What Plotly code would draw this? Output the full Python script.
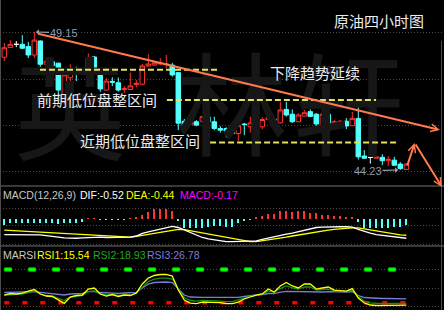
import plotly.graph_objects as go

W, H = 444, 310

# ---------------- data ----------------
open_ = [48.25, 48.60, 48.71, 48.71, 48.63, 48.33, 48.83, 48.00, 48.09, 48.04,
         46.65, 47.52, 47.85, 47.71, 47.73, 48.26, 47.77, 47.08, 47.39, 47.34,
         47.10, 47.10, 47.28, 47.29, 47.94, 47.97, 48.01, 47.99, 47.97, 47.70,
         45.97, 45.86, 45.95, 45.97, 46.12, 45.95, 45.71, 45.71, 45.63, 45.53,
         45.87, 45.77, 45.92, 45.77, 46.03, 46.04, 45.91, 46.39, 46.22, 45.95,
         46.15, 46.31, 46.22, 45.71, 46.22, 45.90, 45.91, 45.97, 45.81, 46.07,
         44.73, 44.68, 44.65, 44.68, 44.56, 44.58, 44.44, 44.25]
high = [48.76, 48.86, 48.83, 49.04, 48.80, 49.15, 48.85, 48.22, 48.15, 48.05,
        47.73, 48.00, 47.91, 47.88, 48.39, 48.29, 47.83, 47.51, 47.54, 47.53,
        47.22, 47.70, 47.44, 48.01, 48.36, 48.08, 48.22, 48.33, 48.05, 47.72,
        46.05, 46.01, 46.01, 46.15, 46.15, 46.13, 45.79, 45.75, 45.65, 45.94,
        45.91, 46.13, 45.94, 46.11, 46.13, 46.09, 46.66, 46.66, 46.39, 46.25,
        46.37, 46.39, 46.26, 46.47, 46.55, 46.01, 46.01, 46.08, 46.30, 46.47,
        44.94, 44.76, 44.72, 44.79, 44.72, 44.70, 44.51, 44.48]
low = [48.11, 48.58, 48.61, 48.54, 48.22, 48.23, 47.91, 47.88, 47.90, 46.96,
       46.60, 47.26, 47.40, 47.70, 47.72, 47.72, 47.02, 47.07, 47.22, 47.02,
       46.98, 47.08, 47.18, 47.26, 47.91, 47.96, 47.97, 47.87, 47.56, 45.65,
       45.65, 45.83, 45.79, 45.91, 45.26, 45.65, 45.56, 45.39, 45.51, 45.27,
       45.47, 45.56, 45.71, 45.68, 46.01, 45.65, 45.89, 46.13, 45.91, 45.94,
       46.15, 46.12, 45.80, 45.58, 45.83, 45.83, 45.88, 45.69, 45.80, 44.60,
       44.64, 44.46, 44.64, 44.40, 44.37, 44.37, 44.23, 44.24]
close = [48.59, 48.71, 48.71, 48.57, 48.33, 48.86, 48.00, 48.11, 47.95, 47.08,
         47.62, 47.79, 47.73, 47.79, 48.21, 47.79, 47.12, 47.40, 47.36, 47.08,
         47.13, 47.23, 47.32, 47.94, 48.01, 48.05, 48.04, 48.01, 47.62, 45.90,
         45.76, 45.91, 45.83, 46.13, 45.94, 45.71, 45.65, 45.62, 45.53, 45.81,
         45.85, 45.91, 45.86, 46.03, 46.11, 45.90, 46.37, 46.19, 45.95, 46.19,
         46.27, 46.14, 45.87, 46.22, 45.90, 45.95, 45.97, 45.80, 46.07, 44.70,
         44.65, 44.68, 44.70, 44.56, 44.61, 44.40, 44.28, 44.44]

dif = [-0.42, -0.42, -0.42, -0.42, -0.43, -0.43, -0.43, -0.45, -0.46, -0.49,
       -0.51, -0.52, -0.52, -0.51, -0.50, -0.49, -0.49, -0.50, -0.50, -0.50,
       -0.50, -0.49, -0.46, -0.39, -0.35, -0.31, -0.27, -0.23, -0.20, -0.23,
       -0.30, -0.38, -0.45, -0.50, -0.54, -0.57, -0.59, -0.61, -0.61, -0.61,
       -0.61, -0.61, -0.59, -0.55, -0.51, -0.47, -0.43, -0.41, -0.38, -0.34,
       -0.30, -0.26, -0.23, -0.22, -0.21, -0.21, -0.21, -0.21, -0.22, -0.28,
       -0.34, -0.38, -0.42, -0.44, -0.46, -0.48, -0.50, -0.52]
dea = [-0.30, -0.31, -0.31, -0.32, -0.33, -0.34, -0.35, -0.36, -0.37, -0.38,
       -0.39, -0.41, -0.42, -0.43, -0.44, -0.45, -0.46, -0.47, -0.48, -0.48,
       -0.49, -0.49, -0.47, -0.45, -0.42, -0.39, -0.36, -0.34, -0.30, -0.28,
       -0.29, -0.32, -0.36, -0.39, -0.42, -0.45, -0.48, -0.51, -0.54, -0.57,
       -0.59, -0.61, -0.61, -0.59, -0.57, -0.54, -0.51, -0.49, -0.46, -0.43,
       -0.41, -0.38, -0.35, -0.32, -0.30, -0.28, -0.26, -0.24, -0.24, -0.24,
       -0.27, -0.30, -0.32, -0.35, -0.38, -0.41, -0.43, -0.44]
macd = [-0.16, -0.12, -0.12, -0.10, -0.12, -0.10, -0.10, -0.12, -0.12, -0.14,
        -0.12, -0.10, -0.10, -0.07, 0.02, 0.02, -0.02, -0.02, -0.02, -0.02,
        -0.02, 0.02, 0.05, 0.11, 0.20, 0.26, 0.27, 0.27, 0.22, -0.05,
        -0.25, -0.25, -0.25, -0.23, -0.21, -0.18, -0.18, -0.21, -0.21, -0.10,
        -0.05, -0.01, 0.04, 0.08, 0.14, 0.14, 0.22, 0.22, 0.20, 0.22,
        0.22, 0.17, 0.15, 0.11, 0.11, 0.08, 0.08, 0.06, 0.06, -0.07,
        -0.23, -0.25, -0.23, -0.23, -0.23, -0.21, -0.21, -0.17]

rsi1 = [33.9, 36.6, 35.7, 37.5, 41.1, 43.8, 35.7, 32.1, 31.2, 24.9,
        18.9, 30.3, 33.0, 33.9, 44.7, 46.6, 35.7, 32.1, 34.8, 31.2,
        33.9, 33.0, 37.5, 53.8, 64.6, 69.2, 71.0, 71.0, 68.2, 42.9,
        24.9, 19.4, 18.5, 21.2, 21.2, 21.2, 20.3, 18.5, 18.5, 21.2,
        26.7, 30.3, 33.9, 35.7, 44.7, 39.3, 50.2, 56.5, 50.2, 46.6,
        53.8, 53.8, 44.7, 46.6, 48.4, 42.9, 42.0, 41.1, 45.6, 28.5,
        19.4, 15.8, 14.9, 14.9, 14.9, 14.9, 14.9, 15.54]
rsi2 = [33.9, 34.8, 34.8, 35.7, 38.4, 41.1, 35.7, 33.0, 32.1, 27.6,
        24.0, 30.3, 32.1, 33.0, 40.2, 41.1, 35.7, 33.9, 34.8, 33.0,
        33.9, 33.9, 36.6, 48.4, 58.3, 62.8, 64.6, 64.6, 62.8, 44.7,
        29.4, 24.0, 23.0, 24.0, 24.0, 24.0, 23.0, 22.1, 22.1, 24.9,
        28.5, 31.2, 33.9, 35.7, 41.1, 39.3, 45.6, 50.2, 46.6, 44.7,
        48.4, 48.4, 42.9, 43.8, 44.7, 42.0, 41.1, 40.2, 42.9, 31.2,
        23.0, 19.8, 19.0, 18.8, 18.8, 18.9, 18.9, 18.93]
rsi3 = [38.4, 38.8, 38.8, 38.8, 39.7, 40.2, 38.8, 37.5, 37.5, 35.7,
        33.9, 35.7, 36.6, 37.0, 40.2, 40.6, 38.4, 37.5, 37.5, 37.0,
        37.5, 37.5, 38.8, 46.6, 53.8, 56.5, 57.4, 57.4, 56.5, 44.7,
        33.9, 30.3, 29.4, 29.7, 29.7, 29.7, 29.4, 29.0, 29.0, 29.7,
        31.2, 33.0, 33.9, 34.8, 36.6, 36.6, 39.3, 40.6, 40.2, 40.2,
        40.2, 40.2, 39.3, 39.3, 39.9, 39.3, 39.3, 39.3, 39.9, 33.0,
        29.4, 28.5, 28.0, 27.6, 27.6, 27.6, 27.2, 26.78]
rsi_levels = [80, 20]

# consolidation levels: (price, first candle, last candle)
zone_price = [47.80, 46.73, 45.21]
zone_start = [5.95, 27.1, 34.3]
zone_end = [35.45, 61.95, 65.8]

# trend line (candle index, price)
trend_x = [5.4, 72.6]
trend_y = [49.10, 45.66]
# rebound-then-fall sketch
zig_x = [67.1, 68.4, 72.95]
zig_y = [44.34, 45.19, 43.62]

hi_label, lo_label = "49.15", "44.23"

# ---------------- helpers ----------------
n = len(open_)
idx = list(range(n))
X0, X1 = -0.7167, 73.2833          # 6 px per candle
P_TOP, P_BOT = 50.291, 43.695       # main panel price range
M_TOP, M_BOT = 0.892, -0.730        # MACD panel range
R_TOP, R_BOT = 120.7, 6.8           # RSI panel range


def px_x(px):
    return X0 + px / W * (X1 - X0)


def px_p(py):
    return P_TOP - py / 185 * (P_TOP - P_BOT)


def fx(px):
    return px / W


def fy(py):
    return 1 - py / H


RED = "#ff3333"
CYAN = "#54ffff"
ORANGE = "#ff7a4e"
GRID = "#4a4a4a"

fig = go.Figure()

# watermark (drawn first, behind everything)
fig.add_trace(go.Scatter(
    x=[px_x(70), px_x(232), px_x(348)], y=[px_p(124), px_p(120), px_p(120)],
    mode="text", text=["英", "林", "轩"],
    textfont=dict(family="Noto Sans CJK SC", size=112, color="#171717"),
    cliponaxis=False,
    hoverinfo="skip", showlegend=False, xaxis="x", yaxis="y"))

# consolidation dashed levels
for p, a, b in zip(zone_price, zone_start, zone_end):
    fig.add_trace(go.Scatter(x=[a, b], y=[p, p], mode="lines",
                             line=dict(color="#e2e25c", width=2, dash="6px,3px"),
                             hoverinfo="skip", showlegend=False, xaxis="x", yaxis="y"))

norm = [i for i in idx if open_[i] != close[i]]
doji = [i for i in idx if open_[i] == close[i]]
fig.add_trace(go.Candlestick(
    x=norm, open=[open_[i] for i in norm], high=[high[i] for i in norm],
    low=[low[i] for i in norm], close=[close[i] for i in norm],
    increasing=dict(line=dict(color=RED, width=1), fillcolor="#000000"),
    decreasing=dict(line=dict(color=CYAN, width=1), fillcolor=CYAN),
    whiskerwidth=0, hoverinfo="skip", showlegend=False, xaxis="x", yaxis="y"))
fig.add_trace(go.Candlestick(
    x=doji, open=[open_[i] for i in doji], high=[high[i] for i in doji],
    low=[low[i] for i in doji], close=[close[i] for i in doji],
    increasing=dict(line=dict(color="#ffffff", width=1), fillcolor="#ffffff"),
    decreasing=dict(line=dict(color="#ffffff", width=1), fillcolor="#ffffff"),
    whiskerwidth=0, hoverinfo="skip", showlegend=False, xaxis="x", yaxis="y"))

# MACD
fig.add_trace(go.Bar(x=idx, y=macd, width=0.17,
                     marker=dict(color=[RED if v > 0 else CYAN for v in macd], line=dict(width=0)),
                     hoverinfo="skip", showlegend=False, xaxis="x", yaxis="y2"))
fig.add_trace(go.Scatter(x=idx, y=dea, mode="lines", line=dict(color="#ffff00", width=1.3),
                         hoverinfo="skip", showlegend=False, xaxis="x", yaxis="y2"))
fig.add_trace(go.Scatter(x=idx, y=dif, mode="lines", line=dict(color="#ffffff", width=1.3),
                         hoverinfo="skip", showlegend=False, xaxis="x", yaxis="y2"))

# RSI
fig.add_trace(go.Scatter(x=[idx[0], idx[-1]], y=[rsi_levels[0]] * 2, mode="lines",
                         line=dict(color="#00ff00", width=4, dash="7.5px,16.5px"),
                         hoverinfo="skip", showlegend=False, xaxis="x", yaxis="y3"))
fig.add_trace(go.Scatter(x=[idx[0], idx[-1]], y=[rsi_levels[1]] * 2, mode="lines",
                         line=dict(color="#ff0000", width=3.5, dash="5px,13px"),
                         hoverinfo="skip", showlegend=False, xaxis="x", yaxis="y3"))
for ser, col in ((rsi3, "#7a7ad8"), (rsi2, "#159015"), (rsi1, "#ffff00")):
    fig.add_trace(go.Scatter(x=idx, y=ser, mode="lines", line=dict(color=col, width=1.3),
                             hoverinfo="skip", showlegend=False, xaxis="x", yaxis="y3"))

ann = []


def label(text, left, cy, color, size, family="Liberation Sans"):
    ann.append(dict(text=text, x=fx(left), y=fy(cy), xref="paper", yref="paper",
                    xanchor="left", yanchor="middle", showarrow=False,
                    font=dict(family=family, size=size, color=color), borderpad=0))


CJK = "Noto Sans CJK SC"
label("原油四小时图", 333, 20.5, "#ececec", 15, CJK)
label("下降趋势延续", 268.5, 72, "#ececec", 15, CJK)
label("前期低位盘整区间", 36, 99.5, "#ececec", 15, CJK)
label("近期低位盘整区间", 78.5, 140.5, "#ececec", 15, CJK)

label("MACD(12,26,9)", 2, 194.5, "#c8c8c8", 10.5)
label("DIF:-0.52", 79, 194.5, "#ffffff", 10.5)
label("DEA:-0.44", 125, 194.5, "#ffff00", 10.5)
label("MACD:-0.17", 179, 194.5, "#ff00ff", 10.5)

label("MARSI", 2, 255, "#c8c8c8", 10.5)
label("RSI1:15.54", 36, 255, "#ffff00", 10.5)
label("RSI2:18.93", 92, 255, "#22a522", 10.5)
label("RSI3:26.78", 146, 255, "#7c7cdc", 10.5)

# price markers with small grey arrows
ann.append(dict(text=hi_label, x=px_x(36), y=max(high), xref="x", yref="y",
                ax=px_x(63.5), ay=max(high) - 0.03, axref="x", ayref="y",
                showarrow=True, arrowhead=1, arrowsize=0.8, arrowwidth=1.2,
                arrowcolor="#9aa4b0", standoff=0, startstandoff=0,
                font=dict(family="Liberation Sans", size=11, color="#8c9cb0"), borderpad=0))
ann.append(dict(text=lo_label, x=px_x(398), y=min(low), xref="x", yref="y",
                ax=px_x(368), ay=min(low) - 0.03, axref="x", ayref="y",
                showarrow=True, arrowhead=1, arrowsize=0.8, arrowwidth=1.2,
                arrowcolor="#9aa4b0", standoff=0, startstandoff=0,
                font=dict(family="Liberation Sans", size=11, color="#8c9cb0"), borderpad=0))

# orange trend line and zig-zag sketch
ann.append(dict(text="", x=trend_x[1], y=trend_y[1], ax=trend_x[0], ay=trend_y[0],
                xref="x", yref="y", axref="x", ayref="y", showarrow=True,
                arrowhead=5, arrowsize=0.75, arrowwidth=2, arrowcolor=ORANGE,
                standoff=0, startstandoff=0))
for k in range(len(zig_x) - 1):
    ann.append(dict(text="", x=zig_x[k + 1], y=zig_y[k + 1], ax=zig_x[k], ay=zig_y[k],
                    xref="x", yref="y", axref="x", ayref="y", showarrow=True,
                    arrowhead=5, arrowsize=0.75, arrowwidth=2, arrowcolor=ORANGE,
                    standoff=0, startstandoff=0))

shapes = []
for y0 in (186, 246):
    shapes.append(dict(type="line", xref="paper", yref="paper", x0=0, x1=1,
                       y0=fy(y0), y1=fy(y0), line=dict(color="#4c4c4c", width=1.5)))
shapes.append(dict(type="line", xref="paper", yref="paper", x0=fx(0.5), x1=fx(0.5),
                   y0=0, y1=1, line=dict(color="#4c4c4c", width=1)))
shapes.append(dict(type="line", xref="paper", yref="paper", x0=fx(441.5), x1=fx(441.5),
                   y0=0, y1=fy(41), line=dict(color="#4c4c4c", width=1)))

axis_common = dict(showticklabels=False, ticks="", zeroline=False, showline=False,
                   showgrid=True, gridcolor=GRID, griddash="1px,2px", gridwidth=1,
                   fixedrange=True)

fig.update_layout(
    width=W, height=H, margin=dict(l=0, r=0, t=0, b=0, pad=0),
    paper_bgcolor="#000000", plot_bgcolor="#000000",
    showlegend=False, hovermode=False, boxgap=0.25, boxgroupgap=0, bargap=0,
    xaxis=dict(domain=[0, 1], range=[X0, X1], anchor="y3", showgrid=False,
               showticklabels=False, ticks="", zeroline=False, showline=False,
               rangeslider=dict(visible=False), fixedrange=True),
    yaxis=dict(domain=[fy(185), 1], range=[P_BOT, P_TOP], anchor="x",
               tickvals=[px_p(32), px_p(79), px_p(125), px_p(171)], **axis_common),
    yaxis2=dict(domain=[fy(246), fy(186)], range=[M_BOT, M_TOP], anchor="x",
                tickvals=[0.297, -0.189, -0.676], **axis_common),
    yaxis3=dict(domain=[0, fy(247)], range=[R_BOT, R_TOP], anchor="x",
                tickvals=[80.4, 46.0, 14.0], **axis_common),
    annotations=ann, shapes=shapes,
)

fig.write_html("out.html")
